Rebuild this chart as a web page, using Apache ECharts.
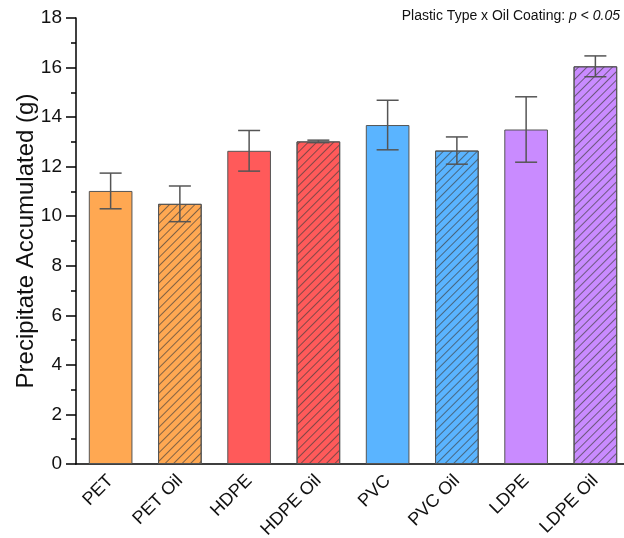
<!DOCTYPE html>
<html><head><meta charset="utf-8">
<script src="https://cdn.jsdelivr.net/npm/echarts@6/dist/echarts.min.js"></script>
<style>html,body{margin:0;padding:0;background:#fff}#c{width:624px;height:538px}</style>
</head><body><div id="c"></div>
<script>
const categories = ['PET','PET Oil','HDPE','HDPE Oil','PVC','PVC Oil','LDPE','LDPE Oil'];
const means = [11.02, 10.5, 12.64, 13.02, 13.68, 12.65, 13.5, 16.05];
const errors = [0.72, 0.72, 0.82, 0.05, 1.0, 0.55, 1.32, 0.42];
const colors = ['#FFA852','#FFA852','#FF5A5A','#FF5A5A','#5AB4FF','#5AB4FF','#C98BFF','#C98BFF'];
const hatched = [false,true,false,true,false,true,false,true];
const yTicks = [0,2,4,6,8,10,12,14,16,18];

const chart = echarts.init(document.getElementById('c'));
const font = 'Liberation Sans, Arial, sans-serif';
const hatch = {symbol:'rect', symbolSize:1, dashArrayX:[1,0], dashArrayY:[1,5], rotation:-Math.PI/4, color:'rgba(60,60,60,0.65)'};

chart.setOption({
  animation:false,
  textStyle:{fontFamily:font},
  grid:{left:76, right:-6, top:18, bottom:74, containLabel:false, outerBoundsMode:'none'},
  xAxis:{type:'category', data:categories,
    axisLine:{lineStyle:{color:'#000', width:1.5}},
    axisTick:{alignWithLabel:true, length:9, lineStyle:{color:'#000', width:1.5}},
    axisLabel:{rotate:45, fontSize:18, color:'#111', margin:14, fontFamily:font}},
  yAxis:{type:'value', min:yTicks[0], max:yTicks[yTicks.length-1], interval:2,
    name:'Precipitate Accumulated (g)', nameLocation:'middle', nameGap:38, nameMoveOverlap:false,
    nameTextStyle:{fontSize:24, color:'#111', fontFamily:font},
    axisLine:{show:true, lineStyle:{color:'#000', width:1.5}},
    axisTick:{show:true, length:10, lineStyle:{color:'#000', width:1.5}},
    minorTick:{show:true, splitNumber:2, length:5, lineStyle:{color:'#000', width:1.5}},
    splitLine:{show:false},
    axisLabel:{fontSize:19, color:'#111', margin:14, fontFamily:font}},
  series:[
    {type:'bar', barWidth:'63%',
     data: means.map((v,i)=>({value:v, itemStyle:{color:colors[i], borderColor:'#555', borderWidth:1, decal: hatched[i]?hatch:null}}))},
    {type:'custom', z:10,
     data: means.map((v,i)=>[i, v-errors[i], v+errors[i]]),
     renderItem:function(params, api){
       const lo = api.coord([api.value(0), api.value(1)]);
       const hi = api.coord([api.value(0), api.value(2)]);
       const hw = 11;
       const st = {stroke:'#555', lineWidth:1.5};
       return {type:'group', children:[
         {type:'line', shape:{x1:hi[0],y1:hi[1],x2:lo[0],y2:lo[1]}, style:st},
         {type:'line', shape:{x1:hi[0]-hw,y1:hi[1],x2:hi[0]+hw,y2:hi[1]}, style:st},
         {type:'line', shape:{x1:lo[0]-hw,y1:lo[1],x2:lo[0]+hw,y2:lo[1]}, style:st}
       ]};
     }}
  ],
  graphic:[{type:'text', right:4, top:9,
    style:{text:'{n|Plastic Type x Oil Coating: }{i|p}{n| < }{i|0.05}',
      rich:{n:{fontSize:14, fill:'#111', fontFamily:font}, i:{fontSize:14, fill:'#111', fontStyle:'italic', fontFamily:font}}}}]
});
</script></body></html>
